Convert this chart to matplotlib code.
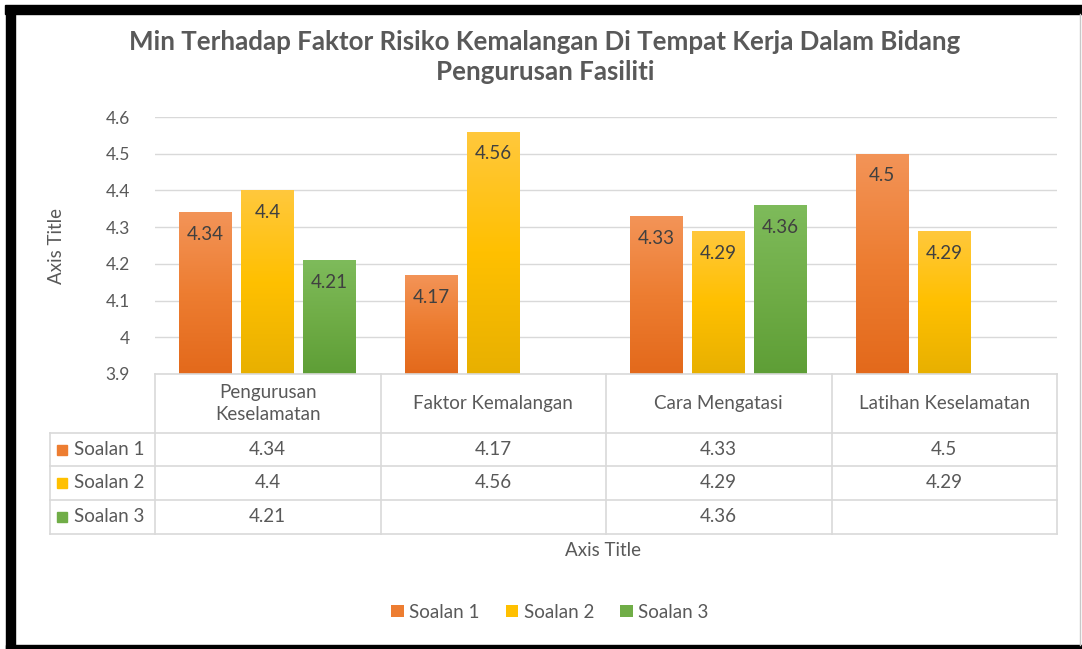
import textwrap
import numpy as np
import matplotlib
matplotlib.use("Agg")
import matplotlib.pyplot as plt
from matplotlib.patches import Rectangle, Patch
from matplotlib.colors import LinearSegmentedColormap
from matplotlib.lines import Line2D

# ---------------- data ----------------
categories = ["Pengurusan Keselamatan", "Faktor Kemalangan", "Cara Mengatasi", "Latihan Keselamatan"]
series_names = ["Soalan 1", "Soalan 2", "Soalan 3"]
soalan1 = [4.34, 4.17, 4.33, 4.5]
soalan2 = [4.4, 4.56, 4.29, 4.29]
soalan3 = [4.21, None, 4.36, None]
y_ticks = [3.9, 4.0, 4.1, 4.2, 4.3, 4.4, 4.5, 4.6]
y_tick_labels = ["3.9", "4", "4.1", "4.2", "4.3", "4.4", "4.5", "4.6"]
title = "Min Terhadap Faktor Risiko Kemalangan Di Tempat Kerja Dalam Bidang\nPengurusan Fasiliti"

# ---------------- style ----------------
W, H = 1082, 649
FONT = "Lato"
plt.rcParams["font.family"] = [FONT, "DejaVu Sans"]
base_colors = ["#ED7D31", "#FFC000", "#70AD47"]
grad_top = ["#F39458", "#FFC83D", "#7EBB5B"]
grad_bot = ["#E3691B", "#E8B000", "#5E9E36"]
grid_c = "#D9D9D9"
text_c = "#595959"
lbl_c = "#404040"
FS = 13.5

fig = plt.figure(figsize=(W / 100, H / 100), dpi=100)
fig.patch.set_facecolor("white")

def fx(px):
    return px / W

def fy(py):
    return 1 - py / H

L, R, T, B = 155, 1057, 117, 374
ax = fig.add_axes([fx(L), fy(B), fx(R - L), (B - T) / H])
ax.set_facecolor("none")

n = len(categories)
x = np.arange(n)
offs = [-0.275, 0.0, 0.275]
bw = 0.235
all_series = [soalan1, soalan2, soalan3]

ymin, ymax = y_ticks[0], y_ticks[-1]
for j, vals in enumerate(all_series):
    v = np.array([np.nan if a is None else a for a in vals], dtype=float)
    mask = ~np.isnan(v)
    bars = ax.bar(x[mask] + offs[j], v[mask] - ymin, bottom=ymin, width=bw,
                  color=base_colors[j], zorder=2, linewidth=0)
    cmap = LinearSegmentedColormap.from_list("g%d" % j, [grad_bot[j], base_colors[j], grad_top[j]])
    grad = np.linspace(0, 1, 256).reshape(-1, 1)
    for b, val in zip(bars, v[mask]):
        x0, w_ = b.get_x(), b.get_width()
        im = ax.imshow(grad, extent=[x0, x0 + w_, ymin, val], origin="lower",
                       aspect="auto", cmap=cmap, zorder=3, interpolation="bicubic")
        im.set_clip_path(b)
        ax.annotate(f"{val:g}", xy=(x0 + w_ / 2, val), xytext=(0, -16),
                    textcoords="offset points", ha="center", va="center",
                    fontsize=FS, color=lbl_c, zorder=5)

ax.set_xlim(-0.5, n - 0.5)
ax.set_ylim(ymin, ymax)
ax.set_yticks(y_ticks)
ax.set_yticklabels(y_tick_labels)
ax.tick_params(axis="y", length=0, pad=18, labelsize=12.5, labelcolor=text_c)
ax.set_xticks([])
ax.grid(axis="y", color=grid_c, linewidth=1.0, zorder=0)
for s in ax.spines.values():
    s.set_visible(False)

# ---------------- data table ----------------
def line(x0, y0, x1, y1):
    fig.add_artist(Line2D([fx(x0), fx(x1)], [fy(y0), fy(y1)], color=grid_c, lw=1.2,
                          transform=fig.transFigure))

row_y = [374, 433, 466, 500, 534]
TL = 50
col_px = [ax.transData.transform((i - 0.5, ymin))[0] for i in range(n + 1)]
line(L, row_y[0], R, row_y[0])
for yy in row_y[1:]:
    line(TL, yy, R, yy)
for c in col_px:
    line(c, row_y[0], c, row_y[-1])
line(TL, row_y[1], TL, row_y[-1])

for i, cat in enumerate(categories):
    cx = (col_px[i] + col_px[i + 1]) / 2
    fig.text(fx(cx), fy((row_y[0] + row_y[1]) / 2), textwrap.fill(cat, 20),
             ha="center", va="center", fontsize=FS, color=text_c, linespacing=1.3)
for j, (name, vals) in enumerate(zip(series_names, all_series)):
    cy = (row_y[j + 1] + row_y[j + 2]) / 2
    fig.patches.append(Rectangle((fx(57), fy(cy + 5)), fx(10), 10 / H, color=base_colors[j],
                                 transform=fig.transFigure, figure=fig))
    fig.text(fx(74), fy(cy), name, ha="left", va="center", fontsize=FS, color=text_c)
    for i, val in enumerate(vals):
        if val is None:
            continue
        cx = (col_px[i] + col_px[i + 1]) / 2
        fig.text(fx(cx), fy(cy), f"{val:g}", ha="center", va="center", fontsize=FS, color=text_c)

# ---------------- titles ----------------
fig.text(fx(545), fy(57), title, ha="center", va="center", fontsize=18.6, fontweight="bold",
         color=text_c, linespacing=1.3)
fig.text(fx(56), fy(246), "Axis Title", rotation=90, ha="center", va="center",
         fontsize=FS, color=text_c)
fig.text(fx(603), fy(551), "Axis Title", ha="center", va="center", fontsize=FS, color=text_c)

# ---------------- legend ----------------
handles = [Patch(facecolor=c, edgecolor="none") for c in base_colors]
fig.legend(handles, series_names, loc="center", bbox_to_anchor=(fx(550), fy(612)), ncol=3,
           frameon=False, fontsize=FS, handlelength=0.65, handleheight=0.65,
           handletextpad=0.3, columnspacing=1.4, labelcolor=text_c)

# ---------------- frame ----------------
fig.patches.append(Rectangle((fx(5), fy(14)), fx(1077), 9 / H, color="black",
                             transform=fig.transFigure, figure=fig))
fig.patches.append(Rectangle((fx(6), fy(649)), fx(9), 635 / H, color="black",
                             transform=fig.transFigure, figure=fig))
fig.patches.append(Rectangle((fx(6), fy(649)), fx(1076), 4 / H, color="black",
                             transform=fig.transFigure, figure=fig))
fig.add_artist(Line2D([fx(1080), fx(1080)], [fy(14), fy(645)], color="#C8C8C8", lw=1,
                      transform=fig.transFigure))

fig.savefig("out.png", dpi=100)
